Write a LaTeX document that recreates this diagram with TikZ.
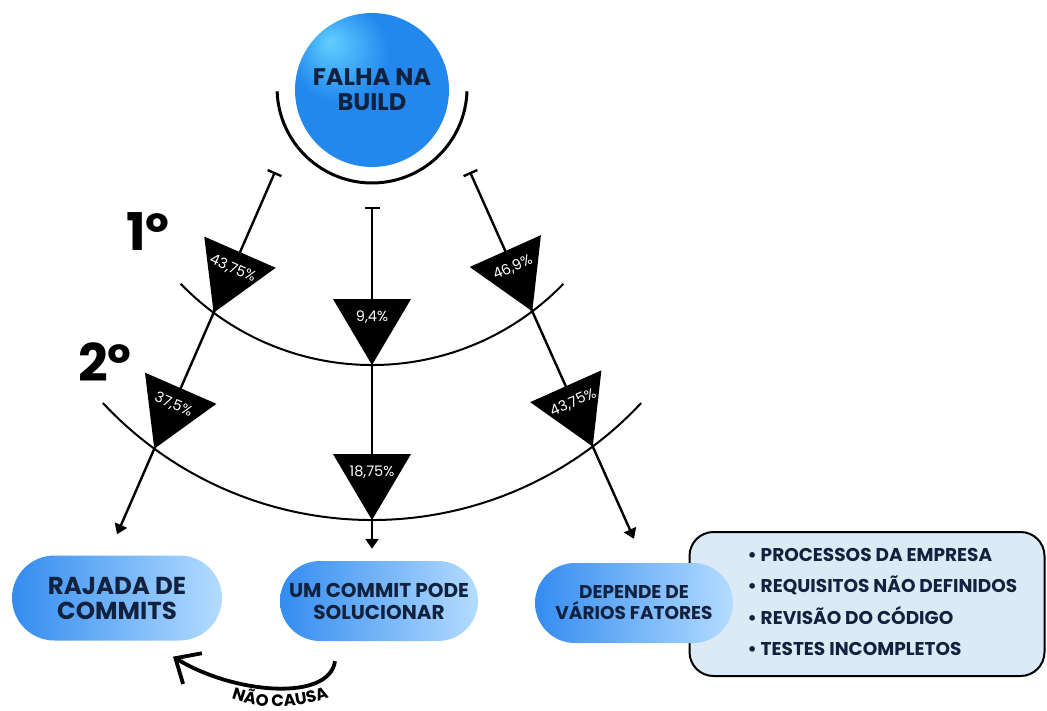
\documentclass[tikz,border=0pt]{standalone}
\usepackage{fontspec}
\setmainfont{Poppins}
\usetikzlibrary{arrows.meta,calc,intersections,shapes.misc,decorations.text}

\definecolor{textnavy}{RGB}{18,34,62}
\definecolor{spherehi}{RGB}{96,208,255}
\definecolor{spheremain}{RGB}{34,136,238}
\definecolor{sphereedge}{RGB}{26,112,220}
\definecolor{pillleft}{RGB}{52,140,240}
\definecolor{pillright}{RGB}{180,220,255}
\definecolor{listfill}{RGB}{220,234,245}

\pgfdeclareradialshading{spherefill}{\pgfpoint{-14bp}{16bp}}{%
  color(0bp)=(spherehi); color(16bp)=(spheremain); color(42bp)=(spheremain); color(62bp)=(sphereedge)}

\begin{document}
\begin{tikzpicture}[
    x=1pt, y=-1pt,
    boxtext/.style={text=textnavy, align=center, font=\bfseries\fontsize{20}{22}\selectfont},
    pill/.style={rounded rectangle, left color=pillleft, right color=pillright, inner sep=0pt, boxtext},
    listbox/.style={draw=black, line width=2pt, fill=listfill, rounded corners=24pt},
    itemtext/.style={text=textnavy, align=left, font=\bfseries\fontsize{18.5}{31.5}\selectfont},
    ordtext/.style={text=black, font=\bfseries\fontsize{52}{52}\selectfont},
    pcent/.style={text=white, inner sep=0pt, font=\fontsize{14.5}{14.5}\selectfont},
    arcline/.style={line width=2pt},
    arr/.style={{Bar[width=15pt]}-{Triangle[width=13pt,length=10pt]}, line width=2.4pt},
    curvearr/.style={-{Straight Barb[length=20pt,width=36pt]}, line width=3.8pt}
  ]
    \useasboundingbox (0,0) rectangle (1047,711);

    \node[circle, minimum size=154pt, shade, shading=spherefill, boxtext,
          font=\bfseries\fontsize{24}{25}\selectfont] (build) at (372,90) {FALHA NA\\BUILD};
    \draw[line width=3pt] (277.1,91.3) arc[start angle=178, end angle=2, radius=95];

    \node[pill, minimum width=210pt, minimum height=85pt,
          font=\bfseries\fontsize{24.5}{25}\selectfont] (rajada) at (117,598) {RAJADA DE\\COMMITS};
    \node[pill, minimum width=198pt, minimum height=80pt] (solucionar) at (379,601) {UM COMMIT PODE\\SOLUCIONAR};
    \node[listbox, minimum width=355pt, minimum height=144pt] (factors) at (867,604) {};
    \node[pill, minimum width=198pt, minimum height=80pt,
          font=\bfseries\fontsize{18.5}{21}\selectfont] (depende) at (634,603) {DEPENDE DE\\VÁRIOS FATORES};
    \node[itemtext, anchor=west] (items) at (744,602) {• PROCESSOS DA EMPRESA\\• REQUISITOS NÃO DEFINIDOS\\• REVISÃO DO CÓDIGO\\• TESTES INCOMPLETOS};

    \node[ordtext] (first) at (148,232) {1º};
    \node[ordtext] (second) at (105,362) {2º};

    % levels
    \draw[arcline, name path=arcA] (180.7,283.8) arc[start angle=136, end angle=44, radius=266];
    \draw[arcline, name path=arcB] (102.9,403) arc[start angle=137, end angle=43, radius=368];

    \coordinate (lstart) at (275,172);
    \coordinate (mstart) at (372,207);
    \coordinate (rstart) at (470,172);
    \coordinate (lend) at ([yshift=21pt]rajada.north);
    \coordinate (mend) at ([xshift=-7pt,yshift=12pt]solucionar.north);
    \coordinate (rend) at ([yshift=24pt]depende.north);

    \draw[arr, name path=lline] (lstart) -- (lend);
    \draw[arr, name path=mline] (mstart) -- (mend);
    \draw[arr, name path=rline] (rstart) -- (rend);

    \path[name intersections={of=lline and arcA, by=la}];
    \path[name intersections={of=lline and arcB, by=lb}];
    \path[name intersections={of=mline and arcA, by=ma}];
    \path[name intersections={of=mline and arcB, by=mb}];
    \path[name intersections={of=rline and arcA, by=ra}];
    \path[name intersections={of=rline and arcB, by=rb}];

    \foreach \apex/\src/\ang/\pct in {la/lstart/-23.5/{43,75\%}, lb/lstart/-23.5/{37,5\%},
        ma/mstart/0/{9,4\%}, mb/mstart/0/{18,75\%}, ra/rstart/24/{46,9\%}, rb/rstart/24/{43,75\%}}{
      \coordinate (base) at ($(\apex)!66pt!(\src)$);
      \fill ($(base)!39pt!90:(\apex)$) -- (\apex) -- ($(base)!39pt!-90:(\apex)$) -- cycle;
      \node[pcent, rotate=\ang] (p-\apex) at ($(\apex)!48pt!(\src)$) {\pct};
    }

    % nao causa
    \coordinate (cstart) at ([xshift=-44pt,yshift=-20pt]solucionar.south);
    \coordinate (cend) at ([xshift=56pt,yshift=-16pt]rajada.south);
    \draw[curvearr] (cstart) .. controls (329,702) and (234,694) .. (cend);
    \path[decorate, decoration={text along path, text align=center,
          text={|\bfseries\fontsize{16.5}{16.5}\selectfont|NÃO CAUSA}}]
          (210,688) .. controls (247,713) and (310,714) .. (350,686);
  \end{tikzpicture}
\end{document}
